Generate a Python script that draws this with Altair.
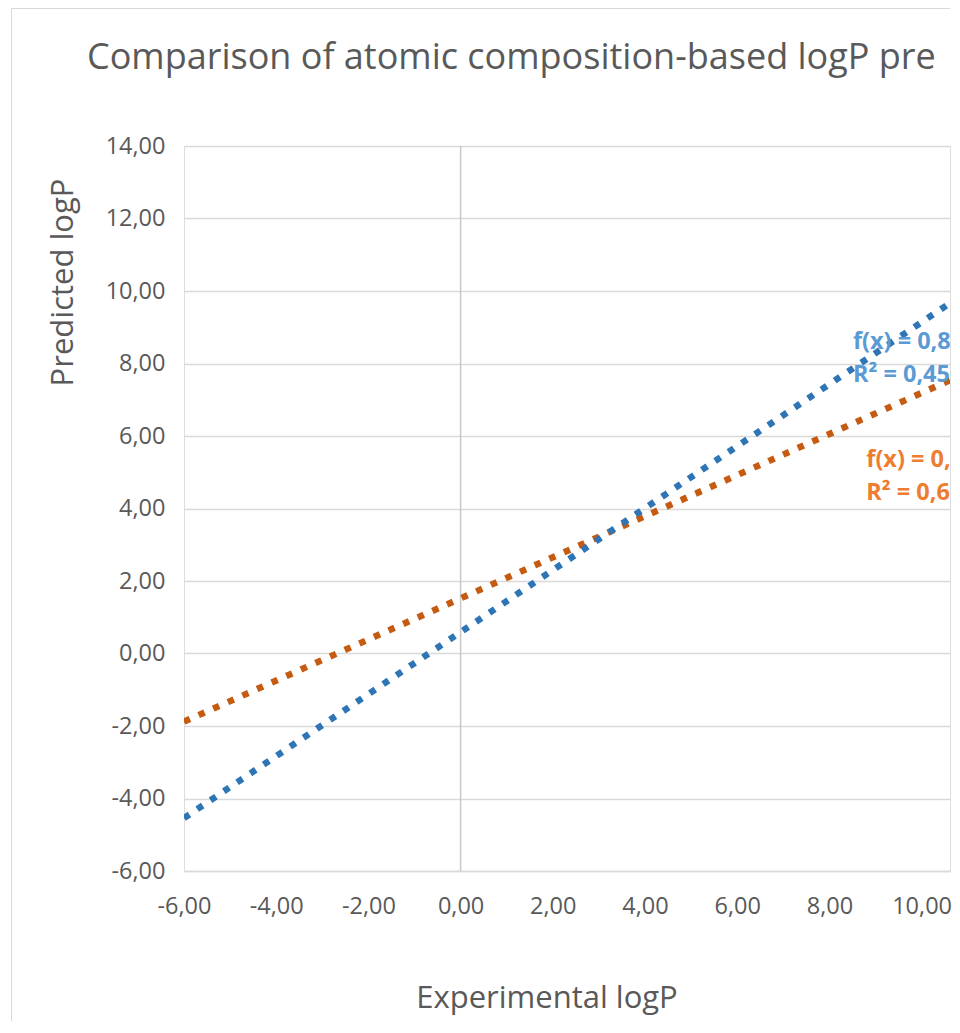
import altair as alt
import pandas as pd

# ---- data ----
title_text = ["Comparison of atomic composition-based logP predictions"]

x_ticks = [-6, -4, -2, 0, 2, 4, 6, 8, 10]
y_ticks = [-6, -4, -2, 0, 2, 4, 6, 8, 10, 12, 14]

blue_x = [-6.0, 10.62]
blue_y = [-4.54, 9.67]
orange_x = [-6.0, 10.62]
orange_y = [-1.88, 7.54]

eq_text = ["f(x) = 0,86x + 0,61", "R² = 0,45", "f(x) = 0,57x + 1,53", "R² = 0,66"]
eq_x = [8.51, 8.51, 8.80, 8.80]
eq_y = [8.59, 7.68, 5.34, 4.43]
eq_series = ["blue", "blue", "orange", "orange"]

FONT = "Open Sans"
TXT = "#595959"
W, H = 766, 725

xs = alt.Scale(domain=[-6, 10.616], nice=False, zero=False)
ys = alt.Scale(domain=[-6, 14], nice=False, zero=False)

num_expr = "(datum.value < 0 ? '-' : '') + replace(format(abs(datum.value), '.2f'), '.', ',')"

blue_df = pd.DataFrame({"x": blue_x, "y": blue_y})
orange_df = pd.DataFrame({"x": orange_x, "y": orange_y})
eq_df = pd.DataFrame({"x": eq_x, "y": eq_y, "t": eq_text, "s": eq_series})
axis_df = pd.DataFrame({"x": [0], "y": [-6], "y2": [14]})
one = pd.DataFrame({"t": title_text})

base_axes = alt.Chart(axis_df).mark_rule(color="#c8c8c8", strokeWidth=1.5).encode(
    x=alt.X("x:Q", scale=xs,
            axis=alt.Axis(values=x_ticks, labelExpr=num_expr, grid=False, ticks=False,
                          domain=True, domainColor="#d9d9d9", domainWidth=1.5,
                          labelFlush=False, labelOverlap=False,
                          labelFont=FONT, labelFontSize=23.5, labelColor=TXT,
                          labelPadding=23, title="Experimental logP",
                          titleFont=FONT, titleFontSize=31, titleFontWeight="normal",
                          titleColor=TXT, titleX=362.5, titleY=136,
                          titleAlign="center", titleBaseline="alphabetic")),
    y=alt.Y("y:Q", scale=ys,
            axis=alt.Axis(values=y_ticks, labelExpr=num_expr, grid=True, gridColor="#d9d9d9",
                          gridWidth=1.5, ticks=False, domain=False, labelOverlap=False,
                          labelFont=FONT, labelFontSize=23.5, labelColor=TXT,
                          labelPadding=19, title="Predicted logP",
                          titleFont=FONT, titleFontSize=31, titleFontWeight="normal",
                          titleColor=TXT, titleX=-121, titleY=136,
                          titleAlign="center", titleBaseline="middle", titleAngle=270)),
    y2="y2:Q",
)

# outer chart-area border (top and left edges; right and bottom are outside the picture)
border_top = alt.Chart(one).mark_rule(color="#d9d9d9", strokeWidth=1).encode(
    x=alt.value(-172.5), x2=alt.value(W), y=alt.value(-137.5))
border_left = alt.Chart(one).mark_rule(color="#d9d9d9", strokeWidth=1).encode(
    x=alt.value(-172.5), y=alt.value(-137.5), y2=alt.value(875))

title = alt.Chart(one).mark_text(
    font=FONT, fontSize=36, color=TXT, align="left", baseline="alphabetic",
    limit=863, ellipsis="\u200b"
).encode(x=alt.value(-97), y=alt.value(-77), text="t:N")

blue_line = alt.Chart(blue_df).mark_line(
    color="#2E75B6", strokeWidth=6.5, strokeDash=[6.5, 9.5], strokeCap="butt", clip=True
).encode(x=alt.X("x:Q", scale=xs), y=alt.Y("y:Q", scale=ys))

orange_line = alt.Chart(orange_df).mark_line(
    color="#C55A11", strokeWidth=6.5, strokeDash=[6.5, 9.5], strokeCap="butt", clip=True
).encode(x=alt.X("x:Q", scale=xs), y=alt.Y("y:Q", scale=ys))

eq = alt.Chart(eq_df).mark_text(
    font=FONT, fontSize=23.5, fontWeight="bold", align="left", baseline="middle", clip=True
).encode(
    x=alt.X("x:Q", scale=xs), y=alt.Y("y:Q", scale=ys), text="t:N",
    color=alt.Color("s:N", scale=alt.Scale(domain=["blue", "orange"],
                                           range=["#5B9BD5", "#ED7D31"]), legend=None),
)

chart = alt.layer(border_top, border_left, base_axes, orange_line, blue_line, eq, title).properties(
    width=W, height=H,
    padding={"left": 3, "top": 0, "right": 0, "bottom": 0},
).configure_view(stroke=None).configure(background="white")

chart.save("out.html", embed_options={"renderer": "svg", "actions": False})
